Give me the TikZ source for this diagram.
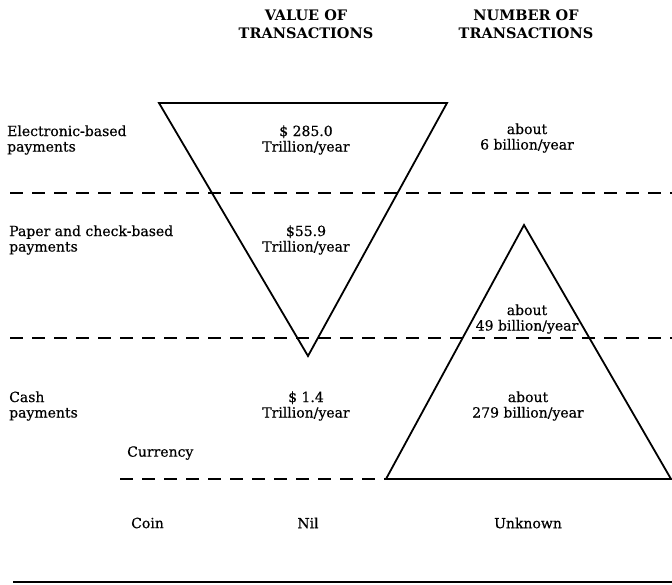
\documentclass[tikz,border=0pt]{standalone}
\usepackage{fontspec}
\setmainfont{DejaVu Serif}
\newfontfamily\bodyfont{DejaVu Serif}[FakeBold=0.5]
\begin{document}
\begin{tikzpicture}[x=1pt,y=-1pt,
  lbl/.style={font=\bodyfont\fontsize{14}{15.5}\selectfont, align=center, inner sep=0pt},
  rowlbl/.style={lbl, align=left, anchor=west},
  hdr/.style={font=\bfseries\fontsize{14.5}{17.5}\selectfont, align=center, inner sep=0pt},
  tri/.style={line width=1.8pt, line join=miter},
  sep/.style={line width=1.3pt, dash pattern=on 13pt off 9pt},
  rule/.style={line width=1.8pt}]
\useasboundingbox (0,0) rectangle (672,584);

% column headings
\node[hdr] (hval) at (306,24) {VALUE OF\\TRANSACTIONS};
\node[hdr] (hnum) at (526,24) {NUMBER OF\\TRANSACTIONS};

% separators between payment kinds
\coordinate (s1a) at (10,193);  \coordinate (s1b) at (672,193);
\coordinate (s2a) at (10,338);  \coordinate (s2b) at (672,338);
\coordinate (s3a) at (120,479);
\draw[sep] (s1a) -- (s1b);
\draw[sep] (s2a) -- (s2b);

% value of transactions: inverted triangle
\coordinate (vtl) at (159,103);
\coordinate (vtr) at (447,103);
\coordinate (vap) at (308,356);
\draw[tri] (vtl) -- (vtr) -- (vap) -- cycle;

% number of transactions: upright triangle
\coordinate (nap) at (524,225);
\coordinate (nbl) at (386,479);
\coordinate (nbr) at (671,479);
\draw[sep] (s3a) -- (nbl);
\draw[tri] (nbl) -- (nap) -- (nbr) -- cycle;

% row labels
\node[rowlbl] (relec) at (7,140) {Electronic-based\\payments};
\node[rowlbl] (rpaper) at (9,240) {Paper and check-based\\payments};
\node[rowlbl] (rcash) at (9,406) {Cash\\payments};
\node[rowlbl] (rcurr) at (127,453) {Currency};
\node[rowlbl] (rcoin) at (131,523) {Coin};

% values
\node[lbl] (velec) at (306,140) {\$ 285.0\\Trillion/year};
\node[lbl] (vpaper) at (306,240) {\$55.9\\Trillion/year};
\node[lbl] (vcash) at (306,406) {\$ 1.4\\Trillion/year};
\node[lbl] (vcoin) at (308,523) {Nil};

% numbers
\node[lbl] (nelec) at (527,138) {about\\6 billion/year};
\node[lbl] (npaper) at (527,319) {about\\49 billion/year};
\node[lbl] (ncash) at (528,406) {about\\279 billion/year};
\node[lbl] (ncoin) at (528,523) {Unknown};

% closing rule
\coordinate (ra) at (13,582); \coordinate (rb) at (672,582);
\draw[rule] (ra) -- (rb);
\end{tikzpicture}
\end{document}
